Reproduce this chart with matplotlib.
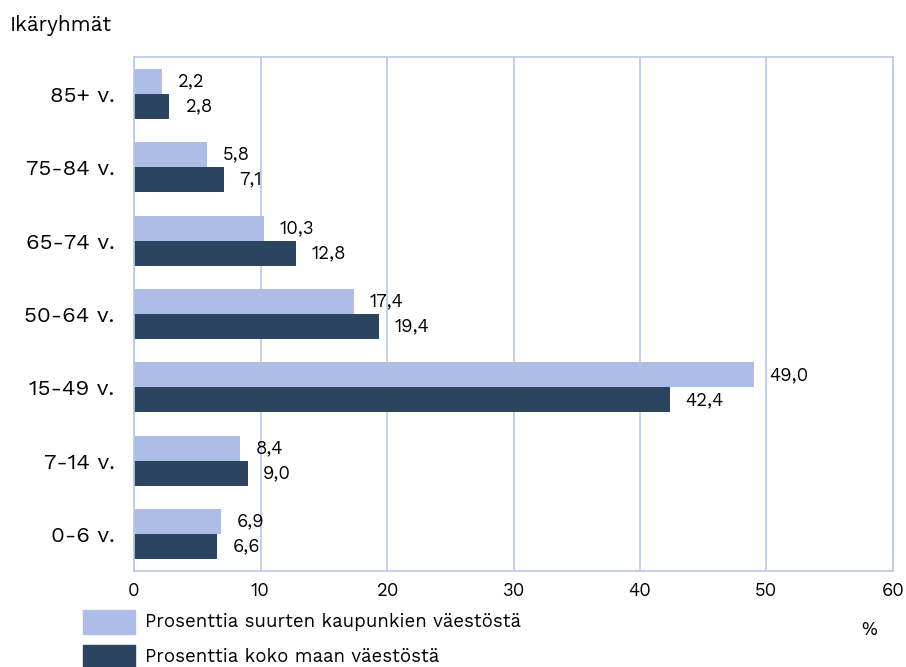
import matplotlib.pyplot as plt
import numpy as np
from matplotlib.patches import Rectangle

plt.rcParams['font.family'] = ['Work Sans', 'Lato', 'DejaVu Sans']

categories = ["85+ v.", "75-84 v.", "65-74 v.", "50-64 v.", "15-49 v.", "7-14 v.", "0-6 v."]
cities = [2.2, 5.8, 10.3, 17.4, 49.0, 8.4, 6.9]
country = [2.8, 7.1, 12.8, 19.4, 42.4, 9.0, 6.6]
series_labels = ["Prosenttia suurten kaupunkien väestöstä", "Prosenttia koko maan väestöstä"]

light = "#adbde8"
dark = "#2b4561"
grid = "#b7c7ee"

fig = plt.figure(figsize=(9.06, 6.67), dpi=100)
ax = fig.add_axes([134 / 906, 1 - 571 / 667, 759 / 906, 514 / 667])

y = np.arange(len(categories))
h = 0.34
ax.barh(y - h / 2, cities, height=h, color=light)
ax.barh(y + h / 2, country, height=h, color=dark)

for yi, v in zip(y, cities):
    ax.annotate(f"{v:.1f}".replace(".", ","), (v, yi - h / 2), xytext=(11, 0),
                textcoords="offset points", va="center", ha="left", fontsize=13.3)
for yi, v in zip(y, country):
    ax.annotate(f"{v:.1f}".replace(".", ","), (v, yi + h / 2), xytext=(11, 0),
                textcoords="offset points", va="center", ha="left", fontsize=13.3)

ax.set_xlim(0, 60)
ax.set_ylim(len(categories) - 0.5, -0.5)
ax.set_xticks(np.arange(0, 61, 10))
ax.set_yticks(y)
ax.set_yticklabels(categories)
ax.tick_params(length=0, labelsize=16)
ax.tick_params(axis="y", pad=14)
ax.tick_params(axis="x", pad=8, labelsize=13.3)
ax.xaxis.grid(True, color=grid, linewidth=1.2)
ax.set_axisbelow(True)
for s in ax.spines.values():
    s.set_color(grid)
    s.set_linewidth(1.2)

fig.text(10 / 906, 1 - 25 / 667, "Ikäryhmät", fontsize=15, va="center")
fig.text(869 / 906, 1 - 630 / 667, "%", fontsize=13.3, va="center", ha="center")

# legend drawn by hand below the axis
for i, (lab, col) in enumerate(zip(series_labels, [light, dark])):
    top = 610 + i * 35
    fig.patches.append(Rectangle((83 / 906, 1 - (top + 24) / 667), 52 / 906, 24 / 667,
                                 transform=fig.transFigure, color=col))
    fig.text(145 / 906, 1 - (top + 12) / 667, lab, fontsize=13.4, va="center")

fig.savefig("out.png", dpi=100)
